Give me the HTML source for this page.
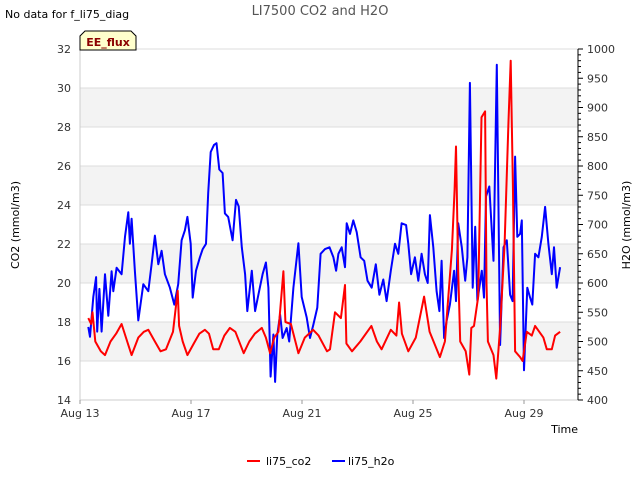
<!DOCTYPE html>
<html><head><meta charset="utf-8"><style>
body{margin:0;background:#fff;}
svg{display:block;font-family:"DejaVu Sans","Liberation Sans",sans-serif;}
</style></head><body>
<svg id="chart" width="640" height="480" xmlns="http://www.w3.org/2000/svg">
<text x="5" y="18" font-size="11" fill="#000">No data for f_li75_diag</text>
<text x="320" y="15" font-size="13" fill="#555" text-anchor="middle">LI7500 CO2 and H2O</text>
<g id="plot"></g>
<g>
<path d="M80,50 L80,36 L85,31 L131,31 L136,36 L136,50 Z" fill="#ffffcc" stroke="#000" stroke-width="1"/>
<text x="108" y="46" font-size="11" font-weight="bold" fill="#8b0000" text-anchor="middle">EE_flux</text>
</g>
<text transform="translate(19,225) rotate(-90)" font-size="11" text-anchor="middle">CO2 (mmol/m3)</text>
<text transform="translate(630,225) rotate(-90)" font-size="11" text-anchor="middle">H2O (mmol/m3)</text>
<text x="578" y="433" font-size="11" text-anchor="end">Time</text>
<g>
<g><line x1="247" y1="461" x2="260" y2="461" stroke="#ff0000" stroke-width="2"/><text x="266" y="465" font-size="11">li75_co2</text></g>
<g><line x1="332" y1="461" x2="345" y2="461" stroke="#0000ff" stroke-width="2"/><text x="348" y="465" font-size="11">li75_h2o</text></g>
</g>
</svg>
<script>
const xTickLabels=["Aug 13","Aug 17","Aug 21","Aug 25","Aug 29"];
const xTickDays=[0,4,8,12,16];
const co2Ticks=[14,16,18,20,22,24,26,28,30,32];
const h2oTicks=[400,450,500,550,600,650,700,750,800,850,900,950,1000];
const co2Days=[0.3,0.4,0.45,0.55,0.75,0.9,1.1,1.3,1.5,1.7,1.86,2.1,2.3,2.46,2.7,2.9,3.1,3.35,3.52,3.57,3.7,3.87,4.1,4.3,4.5,4.65,4.8,5.0,5.2,5.4,5.6,5.9,6.1,6.3,6.55,6.7,6.85,7.0,7.15,7.33,7.4,7.6,7.8,7.87,8.1,8.4,8.6,8.9,9.01,9.19,9.4,9.55,9.6,9.8,10.1,10.5,10.7,10.87,11.2,11.4,11.5,11.6,11.83,12.1,12.4,12.6,12.97,13.15,13.4,13.5,13.55,13.63,13.7,13.9,14.03,14.1,14.2,14.35,14.47,14.6,14.65,14.7,14.9,15.0,15.14,15.3,15.44,15.52,15.6,15.68,15.86,15.95,16.1,16.28,16.4,16.7,16.82,17.0,17.12,17.3];
const co2Vals=[18.2,17.9,18.5,17.0,16.5,16.3,17.0,17.4,17.9,17.0,16.3,17.2,17.5,17.6,17.0,16.5,16.6,17.5,19.6,17.8,17.0,16.3,16.9,17.4,17.6,17.4,16.6,16.6,17.3,17.7,17.5,16.4,17.0,17.4,17.7,17.2,16.4,17.2,17.5,20.6,18.0,17.9,16.8,16.4,17.2,17.6,17.3,16.5,16.6,18.5,18.2,19.9,16.9,16.5,17.0,17.8,17.0,16.6,17.6,17.3,19.0,17.4,16.5,17.2,19.3,17.5,16.2,17.0,21.7,24.8,27.0,20.6,17.0,16.5,15.3,17.7,17.8,19.3,28.5,28.8,20.0,17.0,16.3,15.1,17.7,22.0,28.3,31.4,25.0,16.5,16.2,16.0,17.5,17.3,17.8,17.2,16.6,16.6,17.3,17.5];
const h2oDays=[0.3,0.36,0.48,0.58,0.62,0.7,0.78,0.9,1.02,1.14,1.2,1.32,1.5,1.62,1.74,1.8,1.86,1.98,2.1,2.28,2.46,2.58,2.7,2.82,2.94,3.06,3.24,3.4,3.54,3.66,3.78,3.87,3.99,4.06,4.18,4.32,4.42,4.54,4.62,4.71,4.83,4.92,5.02,5.14,5.22,5.34,5.5,5.62,5.72,5.83,5.95,6.03,6.19,6.31,6.43,6.58,6.7,6.79,6.87,6.97,7.03,7.11,7.21,7.3,7.45,7.54,7.69,7.87,7.99,8.17,8.29,8.41,8.55,8.67,8.83,8.99,9.13,9.23,9.31,9.43,9.55,9.61,9.73,9.85,9.97,10.11,10.24,10.36,10.51,10.66,10.79,10.93,11.05,11.2,11.35,11.47,11.59,11.75,11.83,11.93,12.07,12.19,12.31,12.43,12.53,12.61,12.73,12.85,12.95,13.03,13.12,13.21,13.33,13.48,13.55,13.63,13.76,13.88,13.96,14.05,14.15,14.24,14.32,14.48,14.56,14.63,14.75,14.9,15.02,15.14,15.26,15.38,15.5,15.59,15.68,15.76,15.86,15.92,16.0,16.12,16.22,16.3,16.4,16.52,16.64,16.76,16.88,17.0,17.08,17.18,17.3];
const h2oVals=[525,508,576,610,517,590,517,615,544,620,586,626,615,679,721,667,710,620,536,598,586,632,681,632,655,615,592,563,598,673,690,713,667,575,621,644,658,667,754,824,836,839,794,788,719,713,673,742,731,661,615,552,621,552,580,615,635,592,440,512,431,512,546,506,523,500,592,668,576,541,506,529,558,650,658,661,644,621,650,661,627,702,684,707,687,644,638,604,592,632,580,606,569,621,667,650,702,699,667,615,644,604,650,615,600,716,661,586,552,638,506,535,563,621,569,702,661,604,644,942,592,696,569,621,575,748,765,638,973,494,661,673,580,569,816,679,684,707,451,592,575,563,650,644,679,730,667,615,661,592,627];

const NS="http://www.w3.org/2000/svg";
const L=80,R=578,T=49,B=400;
const xS=d=>L+d*27.75;
const yC=v=>B-(v-14)*(B-T)/18;
const yH=v=>B-(v-400)*(B-T)/600;
const plot=document.getElementById('plot');
function mk(tag,attrs,parent){const e=document.createElementNS(NS,tag);for(const k in attrs)e.setAttribute(k,attrs[k]);(parent||plot).appendChild(e);return e;}
// bands
for(let i=0;i<co2Ticks.length-1;i++){
  if(co2Ticks[i]%4===0){
    const b=mk('rect',{x:L,y:yC(co2Ticks[i]+2),width:R-L,height:yC(co2Ticks[i])-yC(co2Ticks[i]+2),fill:'#f3f3f3'});
    
    
  }
}
co2Ticks.forEach(v=>{
  const g=mk('line',{x1:L,x2:R,y1:yC(v),y2:yC(v),stroke:'#dddddd','stroke-width':1});
  
  
  const t=mk('text',{x:L-9,y:yC(v)+4,'font-size':11,'text-anchor':'end',fill:'#333'});
  t.textContent=v;
  
  
});
mk('line',{x1:L,x2:L,y1:T,y2:B,stroke:'#cccccc'});
mk('line',{x1:L,x2:R,y1:B,y2:B,stroke:'#cccccc'});
mk('line',{x1:R,x2:R,y1:T,y2:B,stroke:'#000'});
for(let v=400;v<=1000;v+=10){
  const big=v%50===0;
  mk('line',{x1:R,x2:R+(big?5:3),y1:yH(v),y2:yH(v),stroke:'#000'});
}
h2oTicks.forEach(v=>{
  const t=mk('text',{x:R+9,y:yH(v)+4,'font-size':11,fill:'#333'});
  t.textContent=v;
  
  
});
xTickDays.forEach((d,i)=>{
  mk('line',{x1:xS(d),x2:xS(d),y1:B,y2:B+4,stroke:'#999'});
  const t=mk('text',{x:xS(d),y:B+17,'font-size':11,'text-anchor':'middle',fill:'#333'});
  t.textContent=xTickLabels[i];
  
  
});
const pc=co2Days.map((d,i)=>xS(d).toFixed(1)+','+yC(co2Vals[i]).toFixed(1)).join(' ');
const ph=h2oDays.map((d,i)=>xS(d).toFixed(1)+','+yH(h2oVals[i]).toFixed(1)).join(' ');
const lh=mk('polyline',{points:ph,fill:'none',stroke:'#0000ff','stroke-width':2,'stroke-linejoin':'round'});


const lc=mk('polyline',{points:pc,fill:'none',stroke:'#ff0000','stroke-width':2,'stroke-linejoin':'round'});


</script>
</body></html>
